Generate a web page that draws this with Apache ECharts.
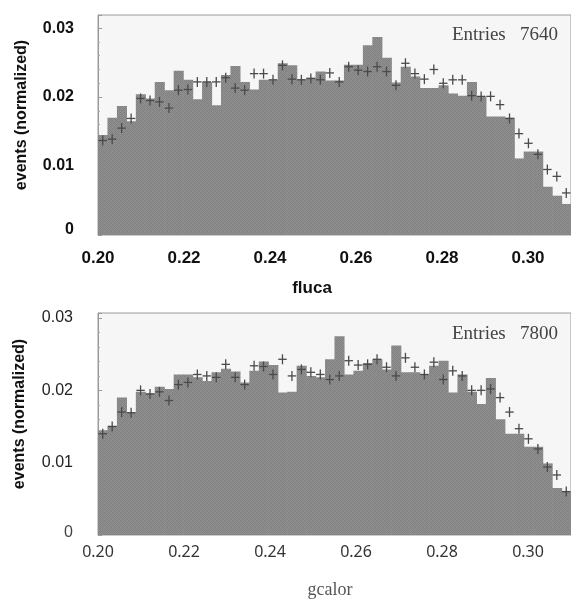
<!DOCTYPE html>
<html>
<head>
<meta charset="utf-8">
<script src="https://cdn.jsdelivr.net/npm/echarts@6/dist/echarts.min.js"></script>
<style>
  html, body { margin: 0; padding: 0; background: #ffffff; }
  #chart { width: 571px; height: 599px; }
</style>
</head>
<body>
<div id="chart"></div>
<script>
// ---- data ----
const BIN_START = 0.20;
const BIN_WIDTH = 0.0022;   // 50 bins from 0.20 to 0.31
const X_MIN = 0.20, X_MAX = 0.31;
const xTicks = [0.20, 0.22, 0.24, 0.26, 0.28, 0.30];
const yTicks = [0, 0.01, 0.02, 0.03];

const flucaBars = [
  0.0145, 0.0170, 0.0187, 0.0165, 0.0204, 0.0198, 0.0222, 0.0210, 0.0238, 0.0225,
  0.0197, 0.0222, 0.0188, 0.0232, 0.0245, 0.0222, 0.0211, 0.0225, 0.0225, 0.0249,
  0.0246, 0.0226, 0.0228, 0.0237, 0.0224, 0.0224, 0.0247, 0.0247, 0.0275, 0.0287,
  0.0257, 0.0221, 0.0244, 0.0230, 0.0213, 0.0213, 0.0217, 0.0205, 0.0202, 0.0222,
  0.0201, 0.0172, 0.0172, 0.0170, 0.0111, 0.0121, 0.0121, 0.0070, 0.0057, 0.0045
];
const flucaPoints = [
  0.0137, 0.0139, 0.0155, 0.0169, 0.0198, 0.0195, 0.0193, 0.0184, 0.0210, 0.0211,
  0.0222, 0.0222, 0.0222, 0.0228, 0.0213, 0.0210, 0.0234, 0.0234, 0.0225, 0.0246,
  0.0226, 0.0225, 0.0227, 0.0225, 0.0235, 0.0222, 0.0244, 0.0239, 0.0237, 0.0244,
  0.0237, 0.0217, 0.0249, 0.0234, 0.0226, 0.0240, 0.0220, 0.0225, 0.0225, 0.0202,
  0.0201, 0.0201, 0.0189, 0.0169, 0.0147, 0.0133, 0.0117, 0.0095, 0.0085, 0.0061
];
const gcalorBars = [
  0.0145, 0.0151, 0.0190, 0.0170, 0.0198, 0.0196, 0.0205, 0.0202, 0.0222, 0.0222,
  0.0218, 0.0213, 0.0225, 0.0230, 0.0226, 0.0211, 0.0227, 0.0240, 0.0235, 0.0197,
  0.0198, 0.0234, 0.0220, 0.0218, 0.0243, 0.0275, 0.0222, 0.0227, 0.0238, 0.0243,
  0.0229, 0.0262, 0.0225, 0.0225, 0.0222, 0.0234, 0.0241, 0.0197, 0.0222, 0.0198,
  0.0181, 0.0217, 0.0160, 0.0140, 0.0140, 0.0122, 0.0122, 0.0099, 0.0065, 0.0060
];
const gcalorPoints = [
  0.0140, 0.0150, 0.0170, 0.0169, 0.0200, 0.0195, 0.0198, 0.0186, 0.0208, 0.0211,
  0.0222, 0.0220, 0.0218, 0.0236, 0.0218, 0.0208, 0.0234, 0.0233, 0.0222, 0.0243,
  0.0220, 0.0229, 0.0225, 0.0222, 0.0215, 0.0220, 0.0241, 0.0235, 0.0236, 0.0243,
  0.0232, 0.0220, 0.0245, 0.0232, 0.0222, 0.0239, 0.0215, 0.0227, 0.0220, 0.0200,
  0.0200, 0.0202, 0.0190, 0.0170, 0.0147, 0.0133, 0.0119, 0.0094, 0.0083, 0.0060
];
const topEntries = 'Entries   7640';
const bottomEntries = 'Entries   7800';
const topXName = 'fluca';
const bottomXName = 'gcalor';
const yName = 'events (normalized)';

// ---- styles ----
// textured gray fill (halftone look)
const pat = document.createElement('canvas');
pat.width = 4; pat.height = 4;
(function () {
  const ctx = pat.getContext('2d');
  const g = [
    [0x7e, 0x92, 0x84, 0x8e],
    [0x90, 0x80, 0x94, 0x82],
    [0x84, 0x8e, 0x7c, 0x92],
    [0x94, 0x82, 0x90, 0x80]
  ];
  for (let r = 0; r < 4; r++) for (let c = 0; c < 4; c++) {
    const v = g[r][c];
    ctx.fillStyle = 'rgb(' + v + ',' + v + ',' + v + ')';
    ctx.fillRect(c, r, 1, 1);
  }
})();
const barFill = { image: pat, repeat: 'repeat' };

function toData(arr) { return arr.map((v, i) => [i, v]); }

function barItem(params, api) {
  const i = api.value(0), v = api.value(1);
  const p0 = api.coord([BIN_START + i * BIN_WIDTH, v]);
  const p1 = api.coord([BIN_START + (i + 1) * BIN_WIDTH, 0]);
  return {
    type: 'rect',
    shape: { x: p0[0], y: p0[1], width: p1[0] - p0[0] + 0.6, height: p1[1] - p0[1] },
    style: { fill: barFill }
  };
}
function crossItem(params, api) {
  const i = api.value(0), v = api.value(1);
  const a = api.coord([BIN_START + i * BIN_WIDTH, v]);
  const b = api.coord([BIN_START + (i + 1) * BIN_WIDTH, v]);
  const c = (a[0] + b[0]) / 2;
  const st = { stroke: '#4a4a4a', lineWidth: 1.3 };
  return {
    type: 'group',
    children: [
      { type: 'line', shape: { x1: a[0] + 0.5, y1: a[1], x2: b[0] - 0.5, y2: b[1] }, style: st },
      { type: 'line', shape: { x1: c, y1: a[1] - 5, x2: c, y2: a[1] + 5 }, style: st }
    ]
  };
}

function fmtX(v) {
  if (Math.abs(v * 50 - Math.round(v * 50)) > 1e-6) return '';
  return v.toFixed(2);
}
function fmtY(v) {
  if (Math.abs(v * 100 - Math.round(v * 100)) > 1e-6) return '';
  if (Math.abs(v) < 1e-9) return '{z|0}';
  return v.toFixed(2);
}

const chart = echarts.init(document.getElementById('chart'), null, { renderer: 'canvas' });
const option = {
  animation: false,
  backgroundColor: '#ffffff',
  grid: [
    { left: 98, top: 15, right: 0, height: 220, show: true, backgroundColor: '#f6f6f6', borderColor: '#9a9a9a', borderWidth: 1 },
    { left: 98, top: 313, right: 0, height: 222, show: true, backgroundColor: '#f6f6f6', borderColor: '#9a9a9a', borderWidth: 1 }
  ],
  xAxis: [
    {
      gridIndex: 0, type: 'value', min: X_MIN, max: X_MAX, interval: 0.02,
      axisLine: { show: false }, axisTick: { show: false }, splitLine: { show: false },
      axisLabel: { formatter: fmtX, showMaxLabel: false, margin: 15, color: '#111',
        fontFamily: 'Liberation Sans', fontWeight: 'bold', fontSize: 17 }
    },
    {
      gridIndex: 1, type: 'value', min: X_MIN, max: X_MAX, interval: 0.02,
      axisLine: { show: false }, axisTick: { show: false }, splitLine: { show: false },
      axisLabel: { formatter: fmtX, showMaxLabel: false, margin: 9, color: '#333',
        fontFamily: 'Noto Sans', fontSize: 16 }
    }
  ],
  yAxis: [
    {
      gridIndex: 0, type: 'value', min: 0, max: 0.0319, interval: 0.01,
      axisLine: { show: true, lineStyle: { color: '#9a9a9a' } },
      axisTick: { show: true, inside: true, length: 4, lineStyle: { color: '#999' } },
      minorTick: { show: true, splitNumber: 5, length: 2, lineStyle: { color: '#aaa' } },
      splitLine: { show: false },
      axisLabel: { formatter: fmtY, showMaxLabel: false, margin: 24, color: '#111',
        fontFamily: 'Liberation Sans', fontWeight: 'bold', fontSize: 16,
        rich: { z: { fontFamily: 'Liberation Sans', fontWeight: 'bold', fontSize: 16, color: '#111', padding: [0, 0, 10, 0] } } }
    },
    {
      gridIndex: 1, type: 'value', min: 0, max: 0.0307, interval: 0.01,
      axisLine: { show: true, lineStyle: { color: '#9a9a9a' } },
      axisTick: { show: true, inside: true, length: 4, lineStyle: { color: '#999' } },
      minorTick: { show: true, splitNumber: 5, length: 2, lineStyle: { color: '#aaa' } },
      splitLine: { show: false },
      axisLabel: { formatter: fmtY, showMaxLabel: false, margin: 25, color: '#222',
        fontFamily: 'Liberation Sans', fontSize: 16,
        rich: { z: { fontFamily: 'Liberation Sans', fontSize: 16, color: '#444', padding: [0, 0, 4, 0] } } }
    }
  ],
  series: [
    { type: 'custom', xAxisIndex: 0, yAxisIndex: 0, renderItem: barItem, data: toData(flucaBars), clip: true, z: 2 },
    { type: 'custom', xAxisIndex: 0, yAxisIndex: 0, renderItem: crossItem, data: toData(flucaPoints), clip: true, z: 3 },
    { type: 'custom', xAxisIndex: 1, yAxisIndex: 1, renderItem: barItem, data: toData(gcalorBars), clip: true, z: 2 },
    { type: 'custom', xAxisIndex: 1, yAxisIndex: 1, renderItem: crossItem, data: toData(gcalorPoints), clip: true, z: 3 }
  ],
  graphic: [
    { type: 'text', right: 13, top: 26, z: 10,
      style: { text: topEntries, font: '19px "Liberation Serif"', fill: '#444', textAlign: 'right' } },
    { type: 'text', right: 13, top: 325, z: 10,
      style: { text: bottomEntries, font: '19px "Liberation Serif"', fill: '#444', textAlign: 'right' } },
    { type: 'text', x: 312, y: 288, z: 10,
      style: { text: topXName, font: 'bold 17px "Liberation Sans"', fill: '#111', textAlign: 'center', textVerticalAlign: 'middle' } },
    { type: 'text', x: 330, y: 590, z: 10,
      style: { text: bottomXName, font: '18px "Liberation Serif"', fill: '#555', textAlign: 'center', textVerticalAlign: 'middle' } },
    { type: 'text', x: 22, y: 115, rotation: Math.PI / 2, z: 10,
      style: { text: yName, font: 'bold 16px "Liberation Sans"', fill: '#111', textAlign: 'center', textVerticalAlign: 'middle' } },
    { type: 'text', x: 20, y: 414, rotation: Math.PI / 2, z: 10,
      style: { text: yName, font: 'bold 16px "Liberation Sans"', fill: '#111', textAlign: 'center', textVerticalAlign: 'middle' } }
  ]
};
chart.setOption(option);
</script>
</body>
</html>
